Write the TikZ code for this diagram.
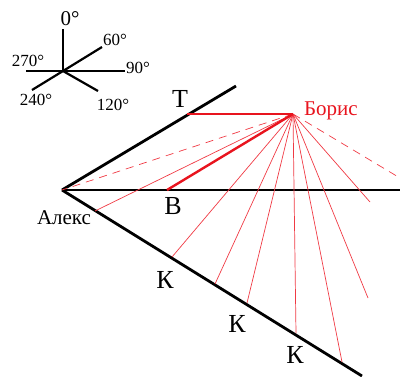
\documentclass[tikz,border=0pt]{standalone}
\usepackage{fontspec}
\setmainfont{Liberation Serif}
\usepackage{xcolor}
\definecolor{sightred}{HTML}{E8141E}
\definecolor{fanred}{HTML}{F03A44}
\usetikzlibrary{positioning}

\begin{document}
\begin{tikzpicture}[x=1pt, y=-1pt,
    ray/.style={line width=2.8pt, color=black},
    axisline/.style={line width=2.2pt, color=black},
    mainsight/.style={line width=2.4pt, color=sightred},
    fan/.style={line width=0.7pt, color=fanred},
    fandash/.style={fan, dash pattern=on 8pt off 6pt},
    lbl/.style={anchor=base, inner sep=0pt, font=\fontsize{26}{26}\selectfont},
    namelbl/.style={anchor=base, inner sep=0pt, font=\fontsize{21}{21}\selectfont},
    deg/.style={anchor=base, inner sep=0pt, font=\fontsize{17}{17}\selectfont}]
  \useasboundingbox (0,0) rectangle (400,376);
  % compass
  \coordinate (c) at (63,71);
  \coordinate (c0) at (63,29);
  \coordinate (c60) at (102,47);
  \coordinate (c90) at (125,71);
  \coordinate (c120) at (98,91);
  \coordinate (c240) at (32,90);
  \coordinate (c270) at (26,71);
  \foreach \d in {0,60,90,120,240,270}
    \draw[axisline] (c) -- (c\d);
  \node[deg, font=\fontsize{21}{21}\selectfont] (l0) at (70,25) {0°};
  \node[deg] (l60) at (115,45) {60°};
  \node[deg] (l90) at (138,73) {90°};
  \node[deg] (l120) at (113,110) {120°};
  \node[deg] (l240) at (36,105) {240°};
  \node[deg] (l270) at (28,66) {270°};
  % rays from Alex
  \coordinate (alex) at (62,190);
  \coordinate (upend) at (236,86);
  \coordinate (midend) at (400,190);
  \coordinate (lowend) at (362,376);
  \draw[ray] (alex) -- (upend);
  \draw[ray] (alex) -- (midend);
  \draw[ray] (alex) -- (lowend);
  % Boris and his lines of sight
  \coordinate (boris) at (293,114);
  \coordinate (tpt) at (187,114);
  \coordinate (bpt) at (167,190);
  \coordinate (k1) at (95,211);
  \coordinate (k2) at (172,257);
  \coordinate (k3) at (215,284);
  \coordinate (k4) at (247,303);
  \coordinate (k5) at (296,333);
  \coordinate (k6) at (342,362);
  \coordinate (f1) at (368,298);
  \coordinate (f2) at (370,202);
  \coordinate (f3) at (400,178);
  \foreach \p in {k1,k2,k3,k4,k5,k6,f1,f2}
    \draw[fan] (boris) -- (\p);
  \draw[fandash] (boris) -- (alex);
  \draw[fandash] (boris) -- (f3);
  \draw[mainsight] (boris) -- (tpt);
  \draw[mainsight] (boris) -- (bpt);
  % labels
  \node[namelbl, color=sightred] (borislbl) at (331,115) {Борис};
  \node[namelbl] (alexlbl) at (64,224) {Алекс};
  \node[lbl] (tlbl) at (180,107) {Т};
  \node[lbl] (blbl) at (173,214) {В};
  \node[lbl] (klbl1) at (165,288) {К};
  \node[lbl] (klbl2) at (237,332) {К};
  \node[lbl] (klbl3) at (295,363) {К};
\end{tikzpicture}
\end{document}
